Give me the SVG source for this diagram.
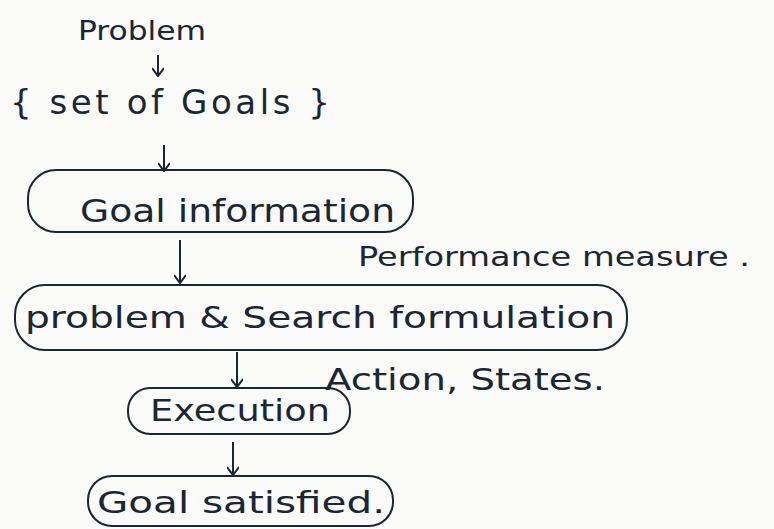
<svg xmlns="http://www.w3.org/2000/svg" width="774" height="529" viewBox="0 0 774 529">
<style>
.bg{fill:#fafaf8}
.t{font-family:"DejaVu Sans","Liberation Sans",sans-serif;fill:#1b2633}
.box{fill:none;stroke:#1b2633;stroke-width:2}
.arr{fill:none;stroke:#1b2633;stroke-width:2;marker-end:url(#ah)}
</style>
<defs>
<marker id="ah" viewBox="0 0 12 12" refX="11" refY="6" markerWidth="12" markerHeight="12" markerUnits="userSpaceOnUse" orient="auto">
<path d="M3,0 L11,6 L3,12" fill="none" stroke="#1b2633" stroke-width="2"/>
</marker>
</defs>
<rect class="bg" x="0" y="0" width="774" height="529"/>
<g id="problem"><text class="t" x="78" y="40" font-size="26" textLength="128" lengthAdjust="spacingAndGlyphs">Problem</text></g>
<g id="set-of-goals"><text class="t" x="10" y="114" font-size="34" textLength="320" lengthAdjust="spacing">{ set of Goals }</text></g>
<g id="goal-information"><rect class="box" x="28" y="170" width="385" height="62" rx="28"/><text class="t" x="80" y="222" font-size="32" textLength="315" lengthAdjust="spacingAndGlyphs">Goal information</text></g>
<g id="performance-measure"><text class="t" x="358" y="266" font-size="27" textLength="392" lengthAdjust="spacingAndGlyphs">Performance measure .</text></g>
<g id="problem-search"><rect class="box" x="15" y="285" width="612" height="65" rx="30"/><text class="t" x="25" y="328" font-size="30" textLength="590" lengthAdjust="spacingAndGlyphs">problem &amp; Search formulation</text></g>
<g id="action-states"><text class="t" x="325" y="390" font-size="30" textLength="280" lengthAdjust="spacingAndGlyphs">Action, States.</text></g>
<g id="execution"><rect class="box" x="128" y="388" width="222" height="46" rx="22"/><text class="t" x="150" y="421" font-size="30" textLength="180" lengthAdjust="spacingAndGlyphs">Execution</text></g>
<g id="goal-satisfied"><rect class="box" x="88" y="476" width="305" height="50" rx="24"/><text class="t" x="97" y="513" font-size="30" textLength="288" lengthAdjust="spacingAndGlyphs">Goal satisfied.</text></g>
<g id="connectors">
<path class="arr" d="M158,55 L158,76"/>
<path class="arr" d="M164,145 L164,171"/>
<path class="arr" d="M180,240 L180,283"/>
<path class="arr" d="M237,352 L237,387"/>
<path class="arr" d="M233,442 L233,475"/>
</g>
</svg>
